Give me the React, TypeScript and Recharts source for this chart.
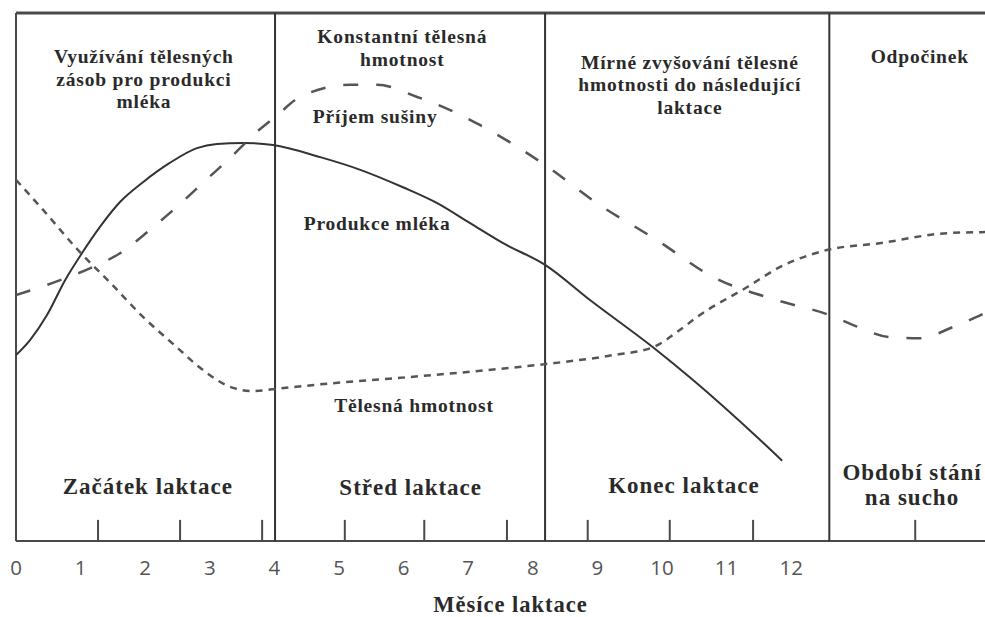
import { LineChart, Line, XAxis, YAxis, ReferenceLine, ReferenceDot } from "recharts";

// month labels on the axis and the short inner tick marks
const monthTicks = [0, 1, 2, 3, 4, 5, 6, 7, 8, 9, 10, 11, 12];
const markTicks = [1.27, 2.54, 3.81, 5.09, 6.32, 7.6, 8.85, 10.12, 11.41, 13.92];
const markHeight = 4; // in value units
// borders between the lactation phases
const phaseBounds = [4.01, 8.19, 12.59];

// Produkce mléka (solid)
const milkMonths = [0, 0.22, 0.48, 0.76, 1.02, 1.3, 1.61, 1.97, 2.38, 2.8, 3.11, 3.51, 3.98, 4.71, 5.33, 5.99, 6.52, 7.03, 7.54, 8.19, 8.89, 9.86, 10.48, 11.47, 11.86];
const milkValues = [35.2, 38.1, 42.8, 49.4, 54.5, 59.5, 64.2, 68.0, 71.6, 74.4, 75.2, 75.4, 75.0, 72.7, 70.3, 67.0, 64.0, 60.2, 56.4, 52.3, 45.6, 36.7, 30.5, 19.7, 15.2];

// Příjem sušiny (long dashes)
const intakeMonths = [0, 0.57, 1.19, 1.61, 2.07, 2.49, 2.89, 3.31, 3.73, 4.01, 4.4, 5.17, 5.59, 6.21, 6.72, 7.18, 8.19, 8.99, 9.92, 10.79, 11.78, 12.59, 12.96, 13.53, 13.99, 14.5, 15];
const intakeValues = [46.6, 48.9, 51.9, 54.5, 58.9, 63.3, 67.8, 72.5, 77.5, 80.3, 84.1, 86.4, 86.4, 84.1, 81.6, 78.8, 71.2, 64.0, 57.0, 50.0, 45.6, 42.8, 40.9, 38.6, 38.4, 40.5, 43.2];

// Tělesná hmotnost (short dashes)
const weightMonths = [0, 0.42, 0.99, 1.46, 1.97, 2.49, 2.85, 3.36, 3.67, 4.01, 4.91, 5.94, 7.49, 8.19, 9.24, 9.86, 10.28, 10.54, 11.32, 11.83, 12.55, 13.37, 14.41, 15];
const weightValues = [68.4, 62.7, 54.7, 48.9, 42.4, 36.7, 32.8, 29.0, 28.4, 28.8, 29.9, 30.9, 32.6, 33.5, 35.2, 36.7, 40.0, 42.4, 48.1, 51.9, 55.1, 56.4, 58.3, 58.5];

const zip = (xs: number[], ys: number[]) => xs.map((m, i) => ({ m, v: ys[i] }));

const milk = zip(milkMonths, milkValues);
const intake = zip(intakeMonths, intakeValues);
const weight = zip(weightMonths, weightValues);

// annotations: text lines and anchor (month, value) of the first baseline
const curveNotes = [
  { lines: ["Využívání tělesných", "zásob pro produkci", "mléka"], m: 1.98, v: 90.5 },
  { lines: ["Konstantní tělesná", "hmotnost"], m: 5.98, v: 94.3 },
  { lines: ["Mírné zvyšování tělesné", "hmotnosti do následující", "laktace"], m: 10.43, v: 89.4 },
  { lines: ["Odpočinek"], m: 13.99, v: 90.5 },
  { lines: ["Příjem sušiny"], m: 5.56, v: 79.2 },
  { lines: ["Produkce mléka"], m: 5.59, v: 58.9 },
  { lines: ["Tělesná hmotnost"], m: 6.16, v: 24.4 },
];

const phaseNotes = [
  { lines: ["Začátek laktace"], m: 2.04, v: 8.9 },
  { lines: ["Střed laktace"], m: 6.11, v: 8.7 },
  { lines: ["Konec laktace"], m: 10.34, v: 9.1 },
  { lines: ["Období stání", "na sucho"], m: 13.87, v: 11.55 },
];

const serif = "'Liberation Serif', 'Times New Roman', serif";
const ink = "#2a2a2a";
const frame = "#4a4a4a";

function noteLabel(lines: string[], size: number, gap: number, spacing: number) {
  return (props: any) => {
    const { x, y } = props.viewBox;
    return (
      <text
        x={x}
        y={y}
        textAnchor="middle"
        style={{ fontFamily: serif, fontWeight: 700, fontSize: size, letterSpacing: spacing }}
        fill={ink}
      >
        {lines.map((l, i) => (
          <tspan key={i} x={x} dy={i === 0 ? 0 : gap}>
            {l}
          </tspan>
        ))}
      </text>
    );
  };
}

export default function App() {
  return (
    <div style={{ position: "absolute", left: 0, top: 0, background: "#fff" }}>
      <LineChart
        width={985}
        height={617}
        margin={{ top: 13, right: 0, bottom: 0, left: 16 }}
      >
        <XAxis
          dataKey="m"
          type="number"
          domain={[0, 15]}
          ticks={monthTicks}
          allowDataOverflow
          interval={0}
          height={76}
          axisLine={false}
          tickLine={false}
          tickSize={6}
          tickMargin={13}
          tick={{ fontFamily: "'Open Sans', 'DejaVu Sans', sans-serif", fontSize: 20.5, fill: "#555" }}
          label={{
            value: "Měsíce laktace",
            position: "insideBottom",
            offset: 5,
            dx: 10,
            style: { fontFamily: serif, fontWeight: 700, fontSize: 22.5, letterSpacing: 1, fill: ink },
          }}
        />
        <YAxis type="number" domain={[0, 100]} hide />

        <ReferenceLine y={100} stroke={frame} strokeWidth={3} />
        <ReferenceLine y={0} stroke={frame} strokeWidth={2} />
        <ReferenceLine x={0} stroke={frame} strokeWidth={2} />
        {phaseBounds.map((b) => (
          <ReferenceLine key={b} x={b} stroke="#333" strokeWidth={2} />
        ))}
        {markTicks.map((t) => (
          <ReferenceLine
            key={t}
            segment={[
              { x: t, y: 0 },
              { x: t, y: markHeight },
            ]}
            stroke={frame}
            strokeWidth={2}
          />
        ))}

        <Line
          data={milk}
          dataKey="v"
          type="monotone"
          stroke="#333"
          strokeWidth={2}
          dot={false}
          isAnimationActive={false}
        />
        <Line
          data={intake}
          dataKey="v"
          type="monotone"
          stroke="#555"
          strokeWidth={2.5}
          strokeDasharray="15 18"
          dot={false}
          isAnimationActive={false}
        />
        <Line
          data={weight}
          dataKey="v"
          type="monotone"
          stroke="#555"
          strokeWidth={2.5}
          strokeDasharray="7 6"
          dot={false}
          isAnimationActive={false}
        />

        {curveNotes.map((n) => (
          <ReferenceDot
            key={n.lines[0]}
            x={n.m}
            y={n.v}
            r={0}
            fill="none"
            stroke="none"
            label={noteLabel(n.lines, 19.5, 22.5, 0.8)}
          />
        ))}
        {phaseNotes.map((n) => (
          <ReferenceDot
            key={n.lines[0]}
            x={n.m}
            y={n.v}
            r={0}
            fill="none"
            stroke="none"
            label={noteLabel(n.lines, 23, 25, 1)}
          />
        ))}
      </LineChart>
    </div>
  );
}
